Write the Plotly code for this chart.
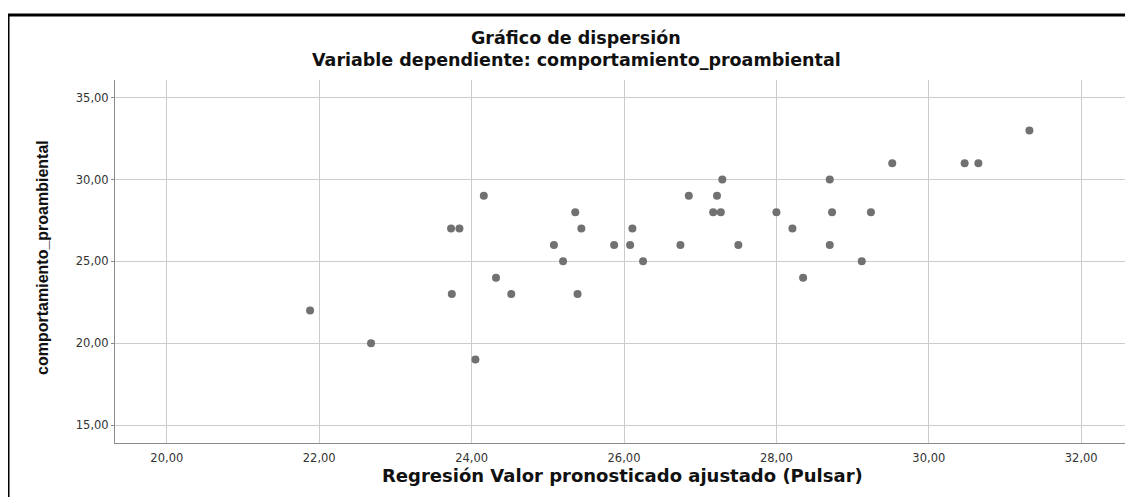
import plotly.graph_objects as go

# Predicted (adjusted) values and observed values
pred = [21.88, 22.68, 23.73, 23.84, 23.74, 24.16, 24.05, 24.32, 24.52, 25.08,
        25.20, 25.36, 25.44, 25.39, 25.87, 26.08, 26.11, 26.25, 26.74, 26.85,
        27.17, 27.22, 27.27, 27.29, 27.50, 28.00, 28.21, 28.35, 28.70, 28.70,
        28.73, 29.12, 29.24, 29.52, 30.47, 30.65, 31.32]
obs = [22, 20, 27, 27, 23, 29, 19, 24, 23, 26,
       25, 28, 27, 23, 26, 26, 27, 25, 26, 29,
       28, 29, 28, 30, 26, 28, 27, 24, 30, 26,
       28, 25, 28, 31, 31, 31, 33]

x_ticks = [20, 22, 24, 26, 28, 30, 32]
y_ticks = [15, 20, 25, 30, 35]

title1 = "Gráfico de dispersión"
title2 = "Variable dependiente: comportamiento_proambiental"
x_title = "Regresión Valor pronosticado ajustado (Pulsar)"
y_title = "comportamiento_proambiental"

FONT = "DejaVu Sans, Verdana, sans-serif"
NARROW = "Liberation Sans Narrow, Liberation Sans, Arial, sans-serif"

fig = go.Figure()
fig.add_trace(go.Scatter(
    x=pred, y=obs, mode="markers",
    marker=dict(size=8, color="#717171", line=dict(width=0)),
    hoverinfo="x+y", showlegend=False,
))

axis_common = dict(
    showgrid=True, gridcolor="#cccccc", gridwidth=1,
    showline=True, linecolor="#8c8c8c", linewidth=1,
    zeroline=False, tickformat=".2f",
    tickfont=dict(family=FONT, size=11.5, color="#333333"),
)

fig.update_layout(
    width=1133, height=497,
    margin=dict(l=107, r=11, t=72, b=62),
    paper_bgcolor="white", plot_bgcolor="white",
    separators=",.",
    xaxis=dict(range=[19.32, 32.64], tickvals=x_ticks, ticks="",
               ticklabelstandoff=4, **axis_common),
    yaxis=dict(range=[13.9, 36.08], tickvals=y_ticks, ticks="outside",
               ticklen=3, tickcolor="#8c8c8c", **axis_common),
    font=dict(family=FONT),
)

ann = [
    dict(text=title1, x=0.4542, y=1.1156, size=17.5),
    dict(text=title2, x=0.4542, y=1.055, size=17.5),
    dict(text=x_title, x=0.5, y=-0.09, size=18),
]
for a in ann:
    fig.add_annotation(text="<b>%s</b>" % a["text"], x=a["x"], y=a["y"],
                       xref="paper", yref="paper", showarrow=False,
                       xanchor="center", yanchor="middle",
                       font=dict(family=FONT, size=a["size"], color="#111111"))
fig.add_annotation(text="<b>%s</b>" % y_title, x=-0.0709, y=0.51,
                   xref="paper", yref="paper", showarrow=False, textangle=-90,
                   xanchor="center", yanchor="middle",
                   font=dict(family=NARROW, size=16, color="#111111"))

# Outer frame
fig.add_shape(type="rect", xref="paper", yref="paper",
              x0=-0.1054, x1=1.03, y0=-0.25, y1=1.179,
              line=dict(color="black", width=3), fillcolor="rgba(0,0,0,0)",
              layer="below")

fig.write_html("out.html")
